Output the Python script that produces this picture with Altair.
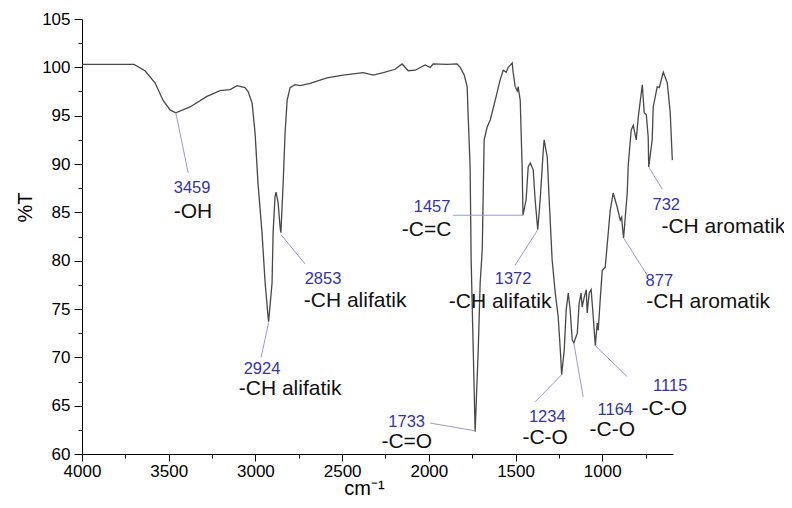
import altair as alt
import pandas as pd

# ---- spectrum (wavenumber cm-1, %T) ----
wavenumber = [4000, 3700, 3637, 3579, 3533, 3492, 3459, 3377, 3279, 3204, 3146, 3106, 3060, 3042,
              3019, 3002, 2985, 2962, 2944, 2927, 2924, 2904, 2898, 2887, 2881, 2869, 2858, 2853,
              2840, 2829, 2817, 2800, 2771, 2742, 2685, 2587, 2494, 2379, 2321, 2263, 2194, 2154,
              2119, 2079, 2021, 1992, 1975, 1894, 1837, 1819, 1796, 1779, 1773, 1762, 1756, 1744,
              1733, 1715, 1704, 1692, 1687, 1681, 1664, 1646, 1617, 1589, 1571, 1554, 1542, 1519,
              1514, 1502, 1490, 1485, 1473, 1462, 1457, 1439, 1427, 1415, 1398, 1387, 1372, 1358,
              1340, 1335, 1317, 1306, 1289, 1271, 1254, 1242, 1234, 1219, 1208, 1196, 1185, 1173,
              1164, 1144, 1133, 1122, 1116, 1104, 1092, 1087, 1075, 1064, 1052, 1040, 1029, 1023,
              1012, 1000, 983, 954, 937, 914, 896, 888, 882, 877, 856, 850, 833, 821, 804, 792,
              769, 758, 746, 735, 732, 712, 706, 683, 671, 648, 625, 608, 596]
transmittance = [100.3, 100.3, 99.65, 98.4, 96.6, 95.6, 95.3, 95.9, 97.0, 97.6, 97.7, 98.1, 97.9, 97.5,
                 96.3, 93.2, 88.0, 82.9, 77.7, 74.2, 73.7, 77.7, 82.9, 86.6, 87.1, 86.0, 83.5, 82.9,
                 88.0, 93.2, 96.6, 97.9, 98.2, 98.1, 98.35, 98.9, 99.2, 99.45, 99.2, 99.45, 99.8, 100.35,
                 99.65, 99.7, 100.25, 100.0, 100.35, 100.3, 100.35, 100.0, 99.2, 98.0, 94.9, 89.7, 80.1, 70.8,
                 62.3, 70.8, 77.7, 81.1, 86.3, 92.5, 93.8, 94.55, 96.6, 98.7, 99.7, 99.5, 100.0, 100.45,
                 99.5, 98.0, 97.55, 98.0, 96.6, 89.7, 84.7, 86.3, 89.7, 90.1, 89.4, 86.3, 83.2, 86.3,
                 91.45, 92.5, 90.7, 86.3, 80.1, 76.65, 74.2, 70.8, 68.2, 70.8, 74.9, 76.65, 74.9, 71.8,
                 71.5, 72.5, 75.6, 76.65, 75.2, 76.2, 77.0, 74.6, 76.65, 77.0, 74.2, 71.2, 73.55, 72.8,
                 75.9, 79.0, 79.3, 85.2, 87.0, 85.55, 84.2, 84.5, 83.2, 82.35, 87.0, 89.9, 93.5, 94.0, 92.5, 94.9,
                 98.2, 95.3, 95.1, 92.8, 89.7, 92.5, 95.9, 98.0, 97.9, 99.5, 98.4, 95.3, 90.4]

# ---- peak labels ----
peak_labels = ["3459", "2924", "2853", "1733", "1457", "1372", "1234", "1164", "1115", "877", "732"]
peak_label_x = [3365, 2962, 2610, 2128, 1981, 1514, 1317, 925, 608, 671, 631]
peak_label_y = [87.5, 68.8, 78.1, 63.3, 85.6, 78.1, 63.8, 64.6, 67.0, 77.9, 85.75]

group_labels = ["-OH", "-CH alifatik", "-CH alifatik", "-C=O", "-C=C", "-CH alifatik",
                "-C-O", "-C-O", "-C-O", "-CH aromatik", "-CH aromatik"]
group_label_x = [3360, 2800, 2425, 2127, 2013, 1589, 1329, 942, 642, 389, 302]
group_label_y = [85.0, 66.7, 75.8, 61.2, 83.2, 75.7, 61.65, 62.5, 64.7, 75.7, 83.5]

# leader lines: from peak point to label
leader_x1 = [3459, 2924, 2853, 1733, 1457, 1372, 1234, 1164, 1040, 877, 732]
leader_y1 = [95.3, 73.6, 82.7, 62.4, 84.7, 83.2, 68.2, 71.5, 71.2, 82.35, 89.7]
leader_x2 = [3388, 2967, 2713, 1992, 1860, 1502, 1387, 1110, 856, 741, 654]
leader_y2 = [89.1, 70.0, 79.65, 63.2, 84.7, 79.55, 65.4, 65.9, 68.0, 78.5, 87.4]

x_ticks = [4000 - 250 * i for i in range(14)]
y_ticks = [60 + 2.5 * i for i in range(19)]

spec = pd.DataFrame({"wn": wavenumber, "T": transmittance, "i": range(len(wavenumber))})
peaks = pd.DataFrame({"label": peak_labels, "x": peak_label_x, "y": peak_label_y})
groups = pd.DataFrame({"label": group_labels, "x": group_label_x, "y": group_label_y})
leaders = pd.DataFrame({"x1": leader_x1, "y1": leader_y1, "x2": leader_x2, "y2": leader_y2})

FONT = "Liberation Sans"

x_scale = alt.Scale(domain=[592, 4000], reverse=True, nice=False, zero=False)
y_scale = alt.Scale(domain=[60, 105], nice=False, zero=False)

x_axis = alt.Axis(values=x_ticks, format="d",
                  labelExpr="datum.value % 500 === 0 ? datum.label : ''",
                  tickSize={"expr": "datum.value % 500 === 0 ? 7 : 4"},
                  grid=False, domainColor="black", tickColor="black", labelColor="black",
                  labelFont=FONT, labelFontSize=17, labelPadding=2, labelFlush=False,
                  labelOverlap=False,
                  title="cm\u207b\u00b9", titleFont=FONT, titleFontSize=20, titleFontWeight="normal",
                  titleColor="black", titleX=282, titleY=40, titleBaseline="alphabetic")
y_axis = alt.Axis(values=y_ticks, format="d",
                  labelExpr="datum.value % 5 === 0 ? datum.label : ''",
                  tickSize={"expr": "datum.value % 5 === 0 ? 8 : 4"},
                  grid=False, domainColor="black", tickColor="black", labelColor="black",
                  labelFont=FONT, labelFontSize=17, labelPadding=4, labelFlush=False,
                  labelOverlap=False,
                  title="%T", titleFont=FONT, titleFontSize=20, titleFontWeight="normal",
                  titleColor="black", titleX=-57, titleY=188, titleAlign="center",
                  titleBaseline="middle")

line = alt.Chart(spec).mark_line(color="#484848", strokeWidth=1.3, interpolate="linear").encode(
    x=alt.X("wn:Q", scale=x_scale, axis=x_axis),
    y=alt.Y("T:Q", scale=y_scale, axis=y_axis),
    order="i:Q",
)

lead = alt.Chart(leaders).mark_rule(color="#9a9acb", strokeWidth=1).encode(
    x=alt.X("x1:Q", scale=x_scale, axis=x_axis),
    y=alt.Y("y1:Q", scale=y_scale, axis=y_axis),
    x2="x2:Q",
    y2="y2:Q",
)

nums = alt.Chart(peaks).mark_text(color="#3434a6", font=FONT, fontSize=16.5, align="center",
                                  baseline="middle").encode(
    x=alt.X("x:Q", scale=x_scale, axis=x_axis),
    y=alt.Y("y:Q", scale=y_scale, axis=y_axis),
    text="label:N",
)

grp = alt.Chart(groups).mark_text(color="#111111", font=FONT, fontSize=21, align="center",
                                  baseline="middle").encode(
    x=alt.X("x:Q", scale=x_scale, axis=x_axis),
    y=alt.Y("y:Q", scale=y_scale, axis=y_axis),
    text="label:N",
)

chart = alt.layer(line, lead, nums, grp).properties(
    width=591, height=435,
    padding={"left": 74, "top": 11, "right": 111, "bottom": 46},
    autosize=alt.AutoSizeParams(type="none"),
    background="white",
).configure_view(stroke=None)

chart.save("out.html", embed_options={"renderer": "svg", "actions": False})
